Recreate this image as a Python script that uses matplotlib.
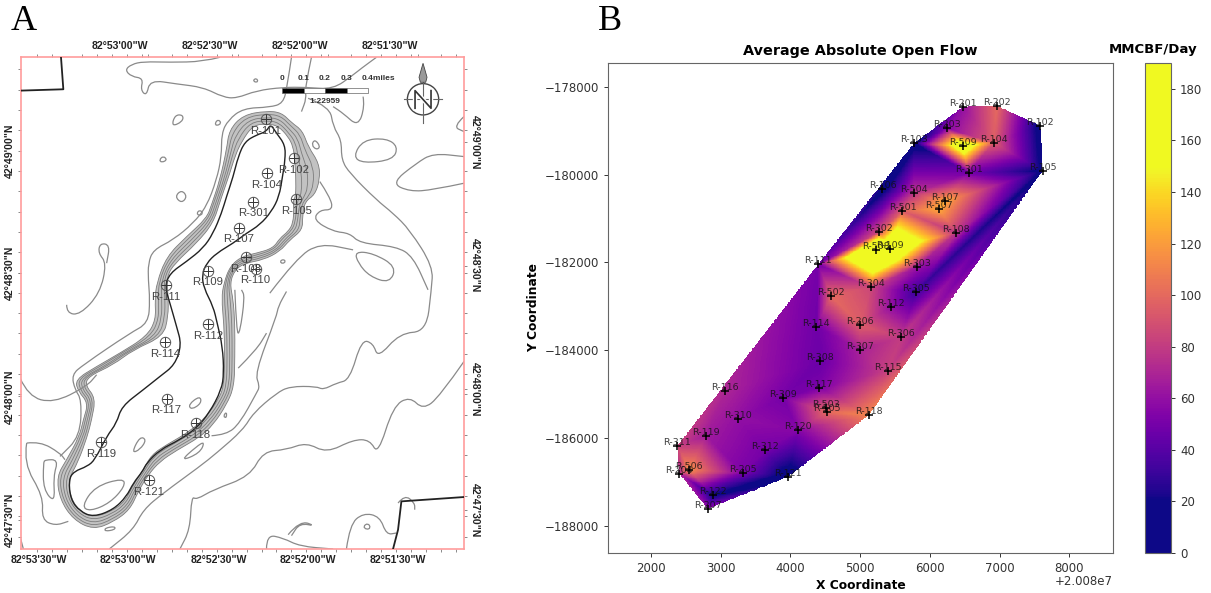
import matplotlib
matplotlib.use("Agg")
import matplotlib.pyplot as plt
import matplotlib.tri as mtri
import numpy as np
from matplotlib.colors import ListedColormap
from matplotlib.patches import Circle, PathPatch, Polygon, Rectangle
from matplotlib.path import Path

W, H = 1211, 593

# ---- panel B, wells in the field (x is relative to the 2.008e7 offset)
well_names = ['R-201', 'R-202', 'R-102', 'R-203', 'R-103', 'R-509', 'R-104', 'R-301', 'R-105', 'R-106',
              'R-504', 'R-107', 'R-507', 'R-501', 'R-302', 'R-108', 'R-508', 'R-109', 'R-111', 'R-303',
              'R-304', 'R-305', 'R-502', 'R-112', 'R-114', 'R-206', 'R-306', 'R-307', 'R-308', 'R-115',
              'R-117', 'R-116', 'R-309', 'R-503', 'R-505', 'R-118', 'R-310', 'R-120', 'R-119', 'R-311',
              'R-312', 'R-506', 'R-204', 'R-205', 'R-121', 'R-122', 'R-207']
well_x = [6474, 6962, 7584, 6244, 5771, 6469, 6914, 6555, 7618, 5321,
          5775, 6216, 6129, 5608, 5278, 6378, 5230, 5431, 4397, 5814,
          5153, 5799, 4584, 5445, 4373, 5000, 5589, 4995, 4431, 5393,
          4416, 3062, 3900, 4512, 4526, 5129, 3249, 4105, 2790, 2378,
          3636, 2545, 2407, 3321, 3967, 2890, 2813]
well_y = [-178455, -178433, -178888, -178949, -179290, -179351, -179275, -179958, -179913, -180338,
          -180429, -180611, -180786, -180831, -181302, -181324, -181719, -181689, -182045, -182114,
          -182561, -182675, -182759, -183017, -183465, -183434, -183697, -183985, -184242, -184470,
          -184848, -184924, -185083, -185303, -185402, -185470, -185553, -185818, -185947, -186174,
          -186280, -186720, -186811, -186788, -186879, -187303, -187606]
well_aof = [60, 100, 12, 55, 12, 189, 95, 50, 15, 12,
            78, 125, 125, 95, 88, 78, 260, 215, 50, 62,
            85, 32, 100, 60, 48, 95, 80, 68, 46, 82,
            52, 70, 50, 92, 100, 112, 60, 55, 65, 82,
            50, 115, 72, 52, 8, 18, 58]
cbar_ticks = [0, 20, 40, 60, 80, 100, 120, 140, 160, 180]

# ---- panel A, linework (map units, y grows downward)
map_wells = ['R-101', 'R-102', 'R-104', 'R-301', 'R-105', 'R-107', 'R-108', 'R-110', 'R-109', 'R-111',
             'R-112', 'R-114', 'R-117', 'R-118', 'R-119', 'R-121']
map_well_x = [798, 882, 801, 760, 889, 717, 738, 767, 623, 497, 625, 496, 500, 587, 304, 446]
map_well_y = [358, 475, 520, 605, 597, 683, 772, 807, 813, 857, 973, 1028, 1197, 1270, 1328, 1442]

ring_outer = [(800, 333), (845, 338), (875, 368), (908, 392), (925, 440), (958, 490), (960, 540), (945, 585),
              (915, 605), (908, 650), (908, 690), (870, 720), (840, 755), (790, 780), (735, 790), (705, 810),
              (690, 850), (700, 900), (705, 970), (705, 1070), (703, 1160), (680, 1215), (640, 1275), (600, 1312),
              (530, 1352), (480, 1385), (445, 1425), (415, 1475), (390, 1530), (340, 1567), (280, 1590), (220, 1560),
              (180, 1500), (170, 1430), (200, 1380), (238, 1310), (250, 1260), (265, 1210), (235, 1175), (225, 1140),
              (290, 1100), (360, 1060), (440, 1010), (468, 960), (465, 900), (470, 850), (500, 770), (560, 710),
              (620, 655), (635, 615), (660, 540), (680, 450), (688, 390), (730, 345)]
ring_second = [(801, 342), (843, 348), (873, 378), (901, 404), (915, 450), (940, 500), (942, 552), (928, 588),
               (906, 610), (901, 655), (897, 691), (862, 719), (835, 752), (785, 775), (732, 785), (701, 808),
               (685, 850), (691, 899), (696, 970), (697, 1070), (695, 1160), (673, 1211), (635, 1268), (592, 1308),
               (522, 1348), (473, 1380), (441, 1421), (411, 1470), (386, 1524), (338, 1559), (280, 1581), (225, 1554),
               (188, 1499), (178, 1432), (208, 1381), (244, 1310), (256, 1260), (270, 1206), (240, 1170), (235, 1137),
               (302, 1099), (370, 1057), (452, 1010), (477, 957), (475, 897), (477, 845), (506, 775), (567, 715),
               (625, 658), (641, 611), (667, 535), (686, 455), (697, 399), (737, 352)]
ring_middle = [(802, 352), (840, 358), (870, 389), (894, 416), (905, 460), (923, 510), (924, 565), (912, 592),
               (898, 615), (894, 660), (886, 692), (855, 718), (830, 750), (780, 770), (730, 780), (697, 805),
               (681, 850), (682, 898), (688, 970), (690, 1070), (688, 1160), (667, 1208), (630, 1262), (585, 1304),
               (515, 1344), (467, 1375), (437, 1418), (407, 1465), (382, 1518), (337, 1551), (280, 1572), (230, 1548),
               (196, 1498), (187, 1435), (217, 1382), (250, 1310), (262, 1260), (276, 1203), (245, 1166), (245, 1135),
               (315, 1098), (380, 1055), (465, 1010), (486, 955), (485, 895), (485, 840), (512, 780), (575, 720),
               (630, 662), (648, 608), (675, 530), (692, 460), (706, 408), (745, 360)]
ring_fourth = [(803, 362), (837, 368), (867, 399), (887, 428), (895, 470), (905, 520), (906, 577), (896, 596),
               (890, 620), (887, 665), (875, 693), (847, 716), (825, 747), (775, 765), (727, 775), (693, 802),
               (676, 850), (673, 896), (680, 970), (682, 1070), (680, 1160), (661, 1204), (625, 1256), (577, 1300),
               (507, 1340), (461, 1370), (433, 1414), (403, 1460), (378, 1511), (336, 1543), (280, 1562), (235, 1541),
               (204, 1496), (196, 1437), (226, 1383), (256, 1310), (268, 1260), (281, 1199), (250, 1161), (255, 1132),
               (327, 1096), (390, 1052), (477, 1010), (495, 952), (495, 892), (492, 835), (518, 785), (582, 725),
               (635, 666), (655, 604), (682, 525), (698, 465), (715, 416), (752, 367)]
ring_inner = [(805, 372), (835, 378), (865, 410), (880, 440), (885, 480), (888, 530), (888, 590), (880, 600),
              (882, 625), (880, 670), (865, 695), (840, 715), (820, 745), (770, 760), (725, 770), (690, 800),
              (672, 850), (665, 895), (672, 970), (675, 1070), (672, 1160), (655, 1200), (620, 1250), (570, 1295),
              (500, 1335), (455, 1365), (430, 1410), (400, 1455), (375, 1505), (335, 1535), (280, 1553), (240, 1535),
              (212, 1495), (205, 1440), (235, 1385), (262, 1310), (275, 1260), (287, 1195), (256, 1157), (265, 1130),
              (340, 1095), (400, 1050), (490, 1010), (505, 950), (505, 890), (500, 830), (525, 790), (590, 730),
              (640, 670), (662, 600), (690, 520), (705, 470), (725, 425), (760, 375)]
black_ring = [(812, 372), (830, 400), (856, 435), (856, 480), (848, 530), (838, 590), (815, 635), (780, 675),
              (740, 700), (700, 730), (650, 760), (620, 790), (606, 825), (612, 865), (640, 920), (652, 970),
              (668, 1040), (672, 1120), (665, 1170), (628, 1240), (590, 1285), (540, 1320), (480, 1350), (440, 1390),
              (428, 1415), (400, 1450), (380, 1490), (340, 1530), (280, 1552), (240, 1535), (212, 1500), (206, 1440),
              (222, 1415), (262, 1400), (285, 1380), (320, 1310), (350, 1270), (365, 1220), (430, 1170), (480, 1130),
              (525, 1095), (545, 1035), (530, 980), (510, 910), (495, 860), (510, 820), (560, 785), (610, 745),
              (640, 700), (665, 640), (680, 590), (700, 530), (715, 470), (735, 425), (770, 405), (800, 395)]
corner_nw = [(183, 172), (190, 268), (62, 272)]
corner_se = [(1393, 1492), (1205, 1505), (1195, 1590), (1180, 1648)]

open_contours = [
    [(660, 172), (610, 185), (510, 187), (430, 185), (395, 193), (375, 210), (395, 230), (430, 235), (422, 270),
     (440, 288), (450, 240), (530, 252), (610, 262), (670, 292), (710, 295), (770, 272), (850, 262), (920, 262),
     (1000, 268), (1060, 225), (1085, 205), (1130, 172)],
    [(875, 172), (862, 260), (850, 310), (810, 322), (730, 325), (685, 360), (665, 400), (665, 470), (650, 540),
     (620, 620), (580, 670), (520, 720), (460, 750), (445, 790), (445, 840), (450, 900), (445, 970), (390, 1000),
     (250, 1095), (215, 1125), (225, 1170), (245, 1200), (240, 1310), (180, 1370)],
    [(935, 172), (915, 265), (920, 295), (905, 335)],
    [(925, 295), (990, 320), (1000, 380), (1025, 420), (1025, 480), (1050, 520), (1130, 600), (1180, 640),
     (1230, 690), (1300, 800), (1295, 870), (1280, 995), (1200, 1000), (1135, 1075), (1120, 1030), (1085, 1020),
     (1050, 1140), (1010, 1150), (970, 1170), (950, 1160), (870, 1160), (830, 1180), (760, 1240), (730, 1290),
     (650, 1360), (600, 1400), (490, 1480), (430, 1530), (400, 1590), (328, 1648)],
    [(1090, 290), (1095, 320), (1075, 380), (1030, 340), (1000, 320)],
    [(1393, 1085), (1320, 1190), (1270, 1230), (1230, 1190), (1180, 1220), (1135, 1365), (1110, 1320), (1060, 1320),
     (980, 1360), (920, 1328), (860, 1350), (790, 1355), (750, 1430), (640, 1470), (590, 1500), (575, 1490),
     (570, 1590), (540, 1648)],
    [(960, 545), (990, 590), (1000, 630), (960, 630), (940, 660), (1000, 695), (1050, 700), (1080, 730), (1190, 740),
     (1240, 770), (1285, 870)],
    [(810, 880), (890, 775), (960, 730), (1060, 750)],
    [(635, 1308), (680, 1305), (720, 1270), (770, 1180), (780, 1160), (765, 1120), (830, 950), (835, 920), (860, 875)],
    [(705, 870), (710, 1000), (720, 1000), (735, 890), (725, 870)],
    [(715, 1105), (770, 1050), (800, 1000)],
    [(60, 1135), (85, 1190), (160, 1210), (260, 1160), (290, 1125)],
    [(200, 915), (200, 940), (240, 945), (300, 880), (320, 790), (295, 760), (300, 730), (330, 735), (320, 790)],
    [(80, 1330), (120, 1325), (180, 1360), (195, 1380)],
    [(80, 1330), (70, 1390), (130, 1490), (125, 1560), (165, 1578), (205, 1565)],
    [(1393, 550), (1300, 570), (1230, 575), (1175, 550), (1250, 490), (1300, 460), (1393, 470)],
    [(800, 1648), (800, 1605), (850, 1615), (900, 1640), (1000, 1648)],
    [(865, 1605), (900, 1562), (950, 1580), (900, 1570), (875, 1608)],
    [(1040, 1648), (1050, 1575), (1090, 1540), (1140, 1550), (1160, 1605), (1190, 1600)],
    [(1195, 1510), (1215, 1485), (1245, 1510), (1245, 1530)],
    [(60, 1610), (70, 1648)],
    [(1393, 350), (1360, 380), (1393, 395)],
]
closed_contours = [
    [(1060, 470), (1090, 420), (1160, 415), (1195, 440), (1180, 480), (1090, 490)],
    [(1065, 755), (1120, 760), (1190, 800), (1170, 850), (1110, 830), (1075, 790)],
    [(515, 380), (525, 345), (550, 345), (548, 365)],
    [(645, 370), (655, 358), (665, 370), (650, 378)],
    [(478, 480), (490, 468), (502, 480), (485, 488)],
    [(525, 590), (545, 570), (562, 590), (545, 610)],
    [(590, 640), (600, 630), (610, 640), (598, 648)],
    [(760, 240), (770, 235), (775, 245), (765, 247)],
    [(935, 435), (945, 418), (962, 440), (950, 450)],
    [(840, 785), (850, 778), (858, 785), (848, 792)],
    [(135, 1380), (175, 1380), (160, 1430), (165, 1510), (130, 1470), (130, 1390)],
    [(395, 1360), (420, 1310), (440, 1320), (420, 1350)],
    [(565, 1215), (600, 1188), (605, 1210), (575, 1230)],
    [(245, 1520), (285, 1460), (370, 1435), (375, 1460), (330, 1510), (270, 1535)],
    [(315, 1585), (345, 1580), (345, 1590), (315, 1595)],
    [(670, 1250), (680, 1235), (680, 1255)],
    [(540, 1385), (590, 1340), (615, 1325), (600, 1360)],
    [(1090, 1580), (1105, 1570), (1113, 1585), (1100, 1590)],
]

lon_top = ["82°53'00\"W", "82°52'30\"W", "82°52'00\"W", "82°51'30\"W"]
lon_bottom = ["82°53'30\"W", "82°53'00\"W", "82°52'30\"W", "82°52'00\"W", "82°51'30\"W"]
lat_labels = ["42°49'00\"N", "42°48'30\"N", "42°48'00\"N", "42°47'30\"N"]
scale_labels = ['0', '0.1', '0.2', '0.3', '0.4miles']


def caja(left, top, right, bottom):
    # axes rectangle from pixel edges of the figure
    return [left / W, 1 - bottom / H, (right - left) / W, (bottom - top) / H]


def curva(puntos, closed=False):
    # smooth line through the read points, quadratic bezier pieces from matplotlib
    p = np.array(puntos, dtype=float)
    if closed:
        p = np.vstack([p, p[0]])
        inicio = (p[-1] + p[-2]) / 2
        verts = [inicio]
        codes = [Path.MOVETO]
        for a, b in zip(p[:-1], p[1:]):
            verts += [a, (a + b) / 2]
            codes += [Path.CURVE3, Path.CURVE3]
        return Path(verts, codes)
    verts = [p[0]]
    codes = [Path.MOVETO]
    for a, b in zip(p[1:-1], p[2:]):
        verts += [a, (a + b) / 2]
        codes += [Path.CURVE3, Path.CURVE3]
    verts.append(p[-1])
    codes.append(Path.LINETO)
    return Path(verts, codes)


def linea(ax, puntos, closed=False, color='#8a8a8a', lw=0.9, z=2):
    ax.add_patch(PathPatch(curva(puntos, closed), fill=False, edgecolor=color, linewidth=lw, zorder=z))


plt.rcParams['font.family'] = 'DejaVu Sans'
fig = plt.figure(figsize=(W / 100, H / 100), dpi=100)

# ---------- panel A
ax_a = fig.add_axes(caja(20.7, 57.3, 464, 549))
ax_a.set_xlim(62, 1393)
ax_a.set_ylim(1648, 172)
for s in ax_a.spines.values():
    s.set_color('#ff9c9c')
    s.set_linewidth(1.2)

# dense contour band on the flanks
banda = Path.make_compound_path(curva(ring_outer, True), curva(ring_inner[::-1], True))
ax_a.add_patch(PathPatch(banda, facecolor='#c2c2c2', edgecolor='none', zorder=1))
for ring in (ring_outer, ring_second, ring_middle, ring_fourth, ring_inner):
    linea(ax_a, ring, True, color='#7c7c7c', lw=0.6, z=2)
for c in open_contours:
    linea(ax_a, c)
for c in closed_contours:
    linea(ax_a, c, True)
linea(ax_a, black_ring, True, color='#222222', lw=1.0, z=3)
ax_a.plot(*zip(*corner_nw), color='#222222', lw=1.3, zorder=3)
ax_a.plot(*zip(*corner_se), color='#222222', lw=1.3, zorder=3)

for nombre, x, y in zip(map_wells, map_well_x, map_well_y):
    ax_a.plot(x, y, 'o', ms=7.5, mfc='none', mec='#555555', mew=0.7, zorder=4)
    ax_a.plot(x, y, '+', ms=7, color='#333333', mew=0.7, zorder=4)
    ax_a.text(x, y + 35, nombre, ha='center', va='center', fontsize=8.2, color='#444444',
              family='Liberation Sans', zorder=5)

# scale bar
barra_x = [848, 914, 977, 1041, 1105]
for i in range(4):
    color = 'black' if i % 2 == 0 else 'white'
    ax_a.add_patch(Rectangle((barra_x[i], 263), barra_x[i + 1] - barra_x[i], 15, facecolor=color,
                             edgecolor='#666666', linewidth=0.5, zorder=5))
for x, t in zip([848, 912, 975, 1039, 1136], scale_labels):
    ax_a.text(x, 237, t, ha='center', va='center', fontsize=6, fontweight='bold', color='#333333',
              family='Liberation Sans', zorder=5)
ax_a.text(976, 306, '1:22959', ha='center', va='center', fontsize=6, fontweight='bold', color='#333333',
          family='Liberation Sans', zorder=5)

# north arrow
ax_a.add_patch(Circle((1270, 298), 47, fill=False, edgecolor='#444444', linewidth=1.0, zorder=5))
ax_a.plot([1212, 1328], [298, 298], color='#666666', lw=0.8, zorder=5)
ax_a.plot([1270, 1270], [240, 370], color='#666666', lw=0.8, zorder=5)
ax_a.plot([1246, 1246, 1294, 1294], [325, 272, 325, 272], color='white', lw=3.2, zorder=6)
ax_a.plot([1246, 1246, 1294, 1294], [325, 272, 325, 272], color='#333333', lw=1.2, zorder=7)
ax_a.add_patch(Polygon([(1270, 190), (1258, 232), (1262, 247), (1278, 247), (1282, 232)], closed=True,
                       facecolor='#999999', edgecolor='#444444', linewidth=0.6, zorder=5))

# tick marks and labels around the frame
tick_txt = dict(fontsize=7.6, fontweight='bold', color='#222222', family='Liberation Sans')
ax_a.set_xticks(np.arange(110, 1393, 45), minor=True)
ax_a.set_yticks(np.arange(208, 1648, 61), minor=True)
ax_a.tick_params(which='minor', length=2, width=0.6, color='#777777', top=True, right=True)
ax_a.set_xticks([200, 470, 740, 1010, 1280], lon_bottom, ha='right', **tick_txt)
ax_a.set_yticks([452, 820, 1190, 1560], lat_labels, rotation=90, va='center', **tick_txt)
ax_a.tick_params(which='major', length=2.5, width=0.6, color='#777777', pad=2)
sec_top = ax_a.secondary_xaxis('top')
sec_top.set_xticks([445, 715, 985, 1255], lon_top, ha='right', **tick_txt)
sec_top.tick_params(length=2.5, width=0.6, color='#777777', pad=2)
sec_right = ax_a.secondary_yaxis('right')
sec_right.set_yticks([427, 797, 1167, 1532], lat_labels, rotation=270, va='center', **tick_txt)
sec_right.tick_params(length=2.5, width=0.6, color='#777777', pad=2)
sec_top.spines['top'].set_visible(False)
sec_right.spines['right'].set_visible(False)

fig.text(24 / W, 1 - 21 / H, 'A', fontsize=26, family='Liberation Serif', ha='center', va='center')
fig.text(610 / W, 1 - 21 / H, 'B', fontsize=26, family='Liberation Serif', ha='center', va='center')

# ---------- panel B
base = plt.get_cmap('plasma')
# navy flat below 20, yellow flat above 150 on the 0-190 scale
mapa = ListedColormap(base(np.clip((np.linspace(0, 190, 256) - 20) / 130, 0, 1)))

ax_b = fig.add_axes(caja(608, 63, 1113, 553))
triangulos = mtri.Triangulation(well_x, well_y)
interpola = mtri.LinearTriInterpolator(triangulos, well_aof)
malla_x, malla_y = np.meshgrid(np.linspace(min(well_x), max(well_x), 500), np.linspace(min(well_y), max(well_y), 500))
malla = ax_b.pcolormesh(malla_x, malla_y, interpola(malla_x, malla_y), shading='auto', cmap=mapa, vmin=0, vmax=190)
ax_b.plot(well_x, well_y, '+', color='black', ms=5.5, mew=1.1)
for nombre, x, y in zip(well_names, well_x, well_y):
    ax_b.annotate(nombre, (x, y), xytext=(0, 2.5), textcoords='offset points', ha='center', va='center',
                  fontsize=6.8, color='#111111', alpha=0.8)
ax_b.set_xlim(1383, 8628)
ax_b.set_ylim(-188614, -177461)
ax_b.set_xticks([2000, 3000, 4000, 5000, 6000, 7000, 8000])
ax_b.set_yticks([-188000, -186000, -184000, -182000, -180000, -178000])
ax_b.tick_params(labelsize=8.5, colors='#333333', length=3, width=0.7)
ax_b.set_xlabel('X Coordinate', fontsize=8.8, fontweight='bold', labelpad=3)
ax_b.set_ylabel('Y Coordinate', fontsize=8.8, fontweight='bold', labelpad=3)
ax_b.set_title('Average Absolute Open Flow', fontsize=10.4, fontweight='bold', pad=6)
ax_b.text(1.0, -0.058, '+2.008e7', transform=ax_b.transAxes, ha='right', va='center', fontsize=8.5, color='#333333')
for s in ax_b.spines.values():
    s.set_color('#666666')

ax_c = fig.add_axes(caja(1145, 63, 1171, 553))
cb = fig.colorbar(malla, cax=ax_c)
cb.set_ticks(cbar_ticks)
cb.ax.tick_params(labelsize=8.5, colors='#333333', length=3, width=0.7)
cb.outline.set_edgecolor('#666666')
fig.text(1153 / W, 1 - 49 / H, 'MMCBF/Day', fontsize=9.5, fontweight='bold', ha='center', va='center')

fig.savefig('out.png', dpi=100)
